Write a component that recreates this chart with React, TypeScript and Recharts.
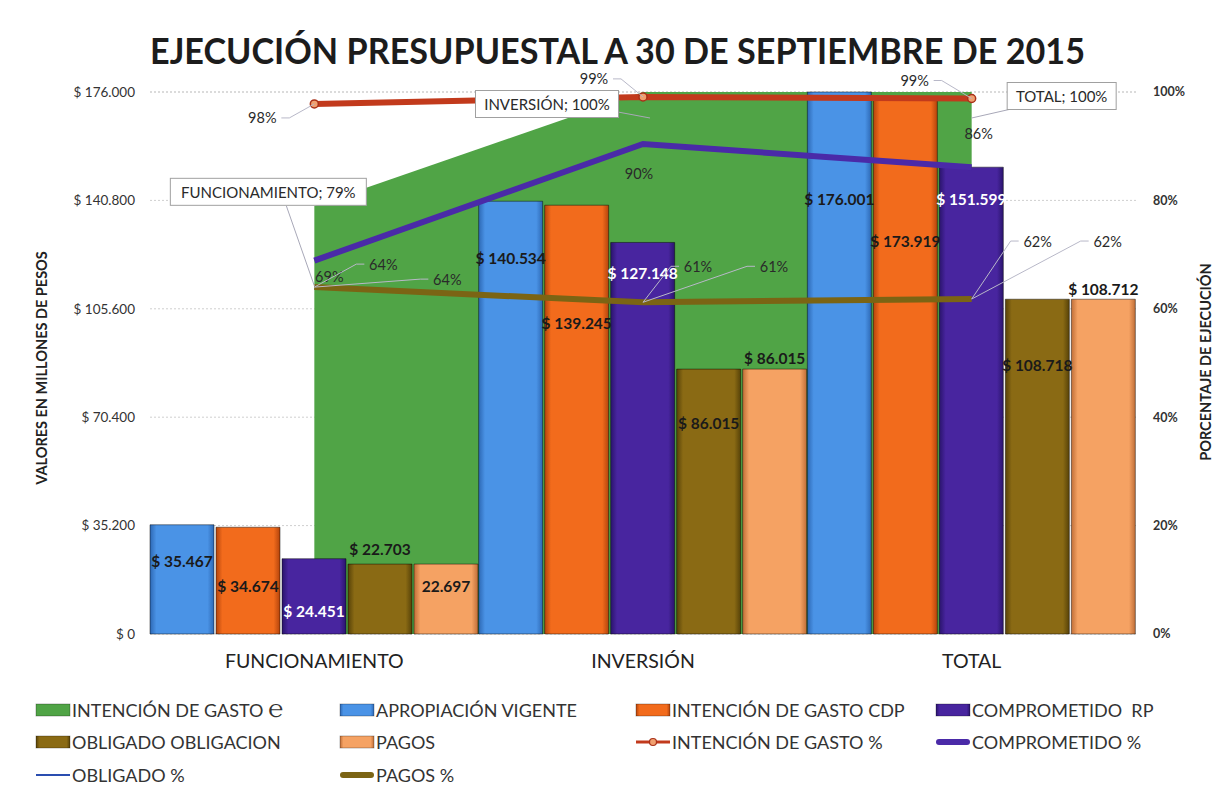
import React from 'react';
import { ComposedChart, Bar, Line, Area, XAxis, YAxis, CartesianGrid, LabelList } from 'recharts';

// ---------- data ----------
const categories = ['FUNCIONAMIENTO', 'INVERSIÓN', 'TOTAL'];
const apropiacionVigente = [35467, 140534, 176001];
const intencionCdp = [34674, 139245, 173919];
const comprometidoRp = [24451, 127148, 151599];
const obligadoObligacion = [22703, 86015, 108718];
const pagos = [22697, 86015, 108712];
const intencionGastoE = [0.79, 1.0, 1.0];
const intencionGastoPct = [0.978, 0.991, 0.988];
const comprometidoPct = [0.689, 0.904, 0.861];
const obligadoPct = [0.64, 0.612, 0.618];
const pagosPct = [0.64, 0.612, 0.618];
const leftTicks = [0, 35200, 70400, 105600, 140800, 176000];
const rightTicks = [0, 0.2, 0.4, 0.6, 0.8, 1.0];
const pagosLabelTexts = ['22.697', '$ 86.015', '$ 108.712'];

const data = categories.map((c, i) => ({
  name: c,
  area: intencionGastoE[i],
  apr: apropiacionVigente[i],
  cdp: intencionCdp[i],
  rp: comprometidoRp[i],
  obl: obligadoObligacion[i],
  pag: pagos[i],
  intPct: intencionGastoPct[i],
  compPct: comprometidoPct[i],
  oblPct: obligadoPct[i],
  pagPct: pagosPct[i],
}));

// ---------- style ----------
const FONT = 'Lato, "Open Sans", sans-serif';
const C = {
  green: '#50a446',
  blue: ['#4a93e6', '#2d68b4'],
  orange: ['#f26b1c', '#b4440c'],
  purple: ['#48259f', '#2a146c'],
  brown: ['#8a6a14', '#574208'],
  light: ['#f5a263', '#c06e37'],
  intLine: '#c23a1c',
  compLine: '#4a2aa8',
  oblLine: '#2a4db0',
  pagLine: '#7b6414',
};

const fmt = (n: number) => '$ ' + String(n).replace(/\B(?=(\d{3})+(?!\d))/g, '.');

// label offsets (relative to bar top), styling only
const barLabelDy: Record<string, number[]> = {
  apr: [36, 57, 107],
  cdp: [59, 118, 143],
  rp: [52, 31, 32],
  obl: [-15, 54, 66],
  pag: [22, -11, -10],
};

const makeBarLabel = (key: string, color: string, texts?: string[]) => (p: any) => {
  const { x, y, width, value, index } = p;
  const txt = texts ? texts[index] : fmt(value);
  return (
    <text
      x={x + width / 2}
      y={y + barLabelDy[key][index]}
      textAnchor="middle"
      dominantBaseline="central"
      fontFamily={FONT}
      fontSize={15.5}
      fontWeight={700}
      fill={color}
    >
      {txt}
    </text>
  );
};

type Off = { dx: number; dy: number; lead?: boolean };
const pctOffsets: Record<string, Off[]> = {
  intPct: [
    { dx: -52, dy: 14, lead: true },
    { dx: -49, dy: -18, lead: true },
    { dx: -57, dy: -18, lead: true },
  ],
  compPct: [
    { dx: 15, dy: 16 },
    { dx: -4, dy: 29 },
    { dx: 7, dy: -34 },
  ],
  pagPct: [
    { dx: 69, dy: -23, lead: true },
    { dx: 55, dy: -36, lead: true },
    { dx: 66, dy: -58, lead: true },
  ],
  oblPct: [
    { dx: 133, dy: -8, lead: true },
    { dx: 131, dy: -36, lead: true },
    { dx: 136, dy: -58, lead: true },
  ],
};

const makePctLabel = (key: string) => (p: any) => {
  const { x, y, value, index } = p;
  const o = pctOffsets[key][index];
  const lx = x + o.dx;
  const ly = y + o.dy;
  const side = o.dx < 0 ? 1 : -1;
  return (
    <g>
      {o.lead && (
        <polyline
          points={`${lx + side * 19},${ly} ${lx + side * 27},${ly} ${x},${y}`}
          fill="none"
          stroke="#b8b8c8"
          strokeWidth={1}
        />
      )}
      <text
        x={lx}
        y={ly}
        textAnchor="middle"
        dominantBaseline="central"
        fontFamily={FONT}
        fontSize={14.5}
        fill="#2a2a2a"
      >
        {`${Math.round(value * 100)}%`}
      </text>
    </g>
  );
};

const areaLabelCfg = [
  { dx: -46, dy: -14, w: 196, l: [-28, 0, 0, 80] },
  { dx: -96, dy: 12, w: 143, l: [-25, 20, 7, 26] },
  { dx: 90, dy: 4, w: 109, l: [44, 16, 0, 26] },
];

const areaLabel = (p: any) => {
  const { x, y, value, index } = p;
  const c = areaLabelCfg[index];
  const cx = x + c.dx;
  const cy = y + c.dy;
  const h = 27;
  return (
    <g>
      <line x1={x + c.l[0]} y1={y + c.l[1]} x2={x + c.l[2]} y2={y + c.l[3]} stroke="#a8a8b8" strokeWidth={1} />
      <rect x={cx - c.w / 2} y={cy - h / 2} width={c.w} height={h} fill="#ffffff" stroke="#a0a0a0" strokeWidth={1} />
      <text x={cx} y={cy} textAnchor="middle" dominantBaseline="central" fontFamily={FONT} fontSize={15} fill="#2a2a2a">
        {`${categories[index]}; ${Math.round(value * 100)}%`}
      </text>
    </g>
  );
};

const Grad = ({ id, c }: { id: string; c: string[] }) => (
  <linearGradient id={id} x1="0" y1="0" x2="1" y2="0">
    <stop offset="0" stopColor={c[1]} />
    <stop offset="0.1" stopColor={c[0]} />
    <stop offset="0.9" stopColor={c[0]} />
    <stop offset="1" stopColor={c[1]} />
  </linearGradient>
);

const legendRows = [
  [
    { t: 'INTENCIÓN DE GASTO ℮', kind: 'rect', c: [C.green, C.green] },
    { t: 'APROPIACIÓN VIGENTE', kind: 'rect', c: C.blue },
    { t: 'INTENCIÓN DE GASTO CDP', kind: 'rect', c: C.orange },
    { t: 'COMPROMETIDO\u00a0\u00a0RP', kind: 'rect', c: C.purple },
  ],
  [
    { t: 'OBLIGADO OBLIGACION', kind: 'rect', c: C.brown },
    { t: 'PAGOS', kind: 'rect', c: C.light },
    { t: 'INTENCIÓN DE GASTO %', kind: 'dotline', c: [C.intLine] },
    { t: 'COMPROMETIDO %', kind: 'thick', c: [C.compLine] },
  ],
  [
    { t: 'OBLIGADO %', kind: 'thin', c: [C.oblLine] },
    { t: 'PAGOS %', kind: 'thick', c: [C.pagLine] },
  ],
];
const legendColX = [36, 340, 636, 936];
const legendRowY = [710, 742, 775];

const Overlay = () => (
  <svg width={1214} height={799} style={{ position: 'absolute', left: 0, top: 0, pointerEvents: 'none' }}>
    <defs>
      <Grad id="lg-blue" c={C.blue} />
      <Grad id="lg-orange" c={C.orange} />
      <Grad id="lg-purple" c={C.purple} />
      <Grad id="lg-brown" c={C.brown} />
      <Grad id="lg-light" c={C.light} />
    </defs>
    <text x={150} y={64} fontFamily={FONT} fontWeight={700} fontSize={37} fill="#1c1c1c" textLength={935} lengthAdjust="spacingAndGlyphs">
      EJECUCIÓN PRESUPUESTAL A 30 DE SEPTIEMBRE DE 2015
    </text>
    <text x={41} y={368} transform="rotate(-90 41 368)" textAnchor="middle" dominantBaseline="central" fontFamily={FONT} fontWeight={700} fontSize={14.5} fill="#222">
      VALORES EN MILLONES DE PESOS
    </text>
    <text x={1205} y={362} transform="rotate(-90 1205 362)" textAnchor="middle" dominantBaseline="central" fontFamily={FONT} fontWeight={700} fontSize={14.5} fill="#222">
      PORCENTAJE DE EJECUCIÓN
    </text>
    {legendRows.map((row, r) =>
      row.map((it, k) => {
        const x = legendColX[k];
        const y = legendRowY[r];
        const gid = it.c === C.blue ? 'lg-blue' : it.c === C.orange ? 'lg-orange' : it.c === C.purple ? 'lg-purple' : it.c === C.brown ? 'lg-brown' : it.c === C.light ? 'lg-light' : '';
        return (
          <g key={`${r}-${k}`}>
            {it.kind === 'rect' && (
              <rect x={x} y={y - 6} width={34} height={12} fill={gid ? `url(#${gid})` : it.c[0]} stroke="rgba(0,0,0,0.35)" strokeWidth={0.8} />
            )}
            {it.kind === 'dotline' && (
              <g>
                <line x1={x} y1={y} x2={x + 34} y2={y} stroke={it.c[0]} strokeWidth={3} />
                <circle cx={x + 17} cy={y} r={3.5} fill="#f0a070" stroke="#a83018" strokeWidth={1.2} />
              </g>
            )}
            {it.kind === 'thick' && <line x1={x + 3} y1={y} x2={x + 31} y2={y} stroke={it.c[0]} strokeWidth={6} strokeLinecap="round" />}
            {it.kind === 'thin' && <line x1={x} y1={y} x2={x + 34} y2={y} stroke={it.c[0]} strokeWidth={2} />}
            <text x={x + 36} y={y} dominantBaseline="central" fontFamily={FONT} fontSize={18} fill="#333">
              {it.t}
            </text>
          </g>
        );
      })
    )}
  </svg>
);

export default function App() {
  return (
    <div style={{ position: 'absolute', left: 0, top: 0, width: 1214, height: 799, background: '#fff' }}>
      <ComposedChart
        width={1214}
        height={799}
        data={data}
        margin={{ top: 92, right: 0, bottom: 125, left: 0 }}
        barCategoryGap={0}
        barGap={2}
      >
        <defs>
          <Grad id="g-blue" c={C.blue} />
          <Grad id="g-orange" c={C.orange} />
          <Grad id="g-purple" c={C.purple} />
          <Grad id="g-brown" c={C.brown} />
          <Grad id="g-light" c={C.light} />
        </defs>
        <CartesianGrid yAxisId="left" vertical={false} stroke="#cfcfcf" strokeDasharray="2 2" />
        <XAxis
          dataKey="name"
          height={40}
          axisLine={false}
          tickLine={false}
          tickSize={0}
          tickMargin={20}
          tick={{ fontFamily: FONT, fontSize: 19.5, fill: '#222' }}
        />
        <YAxis
          yAxisId="left"
          orientation="left"
          width={150}
          domain={[0, 176000]}
          ticks={leftTicks}
          tickFormatter={(v: number) => fmt(v)}
          axisLine={false}
          tickLine={false}
          tickSize={0}
          tickMargin={15}
          tick={{ fontFamily: FONT, fontSize: 13.5, fill: '#333' }}
        />
        <YAxis
          yAxisId="right"
          orientation="right"
          width={78}
          domain={[0, 1]}
          ticks={rightTicks}
          tickFormatter={(v: number) => `${Math.round(v * 100)}%`}
          axisLine={false}
          tickLine={false}
          tickSize={0}
          tickMargin={17}
          tick={{ fontFamily: FONT, fontSize: 12.5, fill: '#333', fontWeight: 700 }}
        />
        <Area
          yAxisId="right"
          dataKey="area"
          type="linear"
          fill={C.green}
          fillOpacity={1}
          stroke="none"
          isAnimationActive={false}
        />
        <Bar yAxisId="left" dataKey="apr" fill="url(#g-blue)" stroke="rgba(0,0,0,0.45)" strokeWidth={1} isAnimationActive={false}>
          <LabelList dataKey="apr" content={makeBarLabel('apr', '#1a1a1a')} />
        </Bar>
        <Bar yAxisId="left" dataKey="cdp" fill="url(#g-orange)" stroke="rgba(0,0,0,0.45)" strokeWidth={1} isAnimationActive={false}>
          <LabelList dataKey="cdp" content={makeBarLabel('cdp', '#1a1a1a')} />
        </Bar>
        <Bar yAxisId="left" dataKey="rp" fill="url(#g-purple)" stroke="rgba(0,0,0,0.45)" strokeWidth={1} isAnimationActive={false}>
          <LabelList dataKey="rp" content={makeBarLabel('rp', '#ffffff')} />
        </Bar>
        <Bar yAxisId="left" dataKey="obl" fill="url(#g-brown)" stroke="rgba(0,0,0,0.45)" strokeWidth={1} isAnimationActive={false}>
          <LabelList dataKey="obl" content={makeBarLabel('obl', '#1a1a1a')} />
        </Bar>
        <Bar yAxisId="left" dataKey="pag" fill="url(#g-light)" stroke="rgba(0,0,0,0.45)" strokeWidth={1} isAnimationActive={false}>
          <LabelList dataKey="pag" content={makeBarLabel('pag', '#1a1a1a', pagosLabelTexts)} />
        </Bar>
        <Line
          yAxisId="right"
          dataKey="intPct"
          type="linear"
          stroke={C.intLine}
          strokeWidth={6}
          dot={{ r: 4, fill: '#f0a070', stroke: '#a83018', strokeWidth: 1.5 }}
          isAnimationActive={false}
        >
          <LabelList dataKey="intPct" content={makePctLabel('intPct')} />
        </Line>
        <Line yAxisId="right" dataKey="compPct" type="linear" stroke={C.compLine} strokeWidth={6} dot={false} isAnimationActive={false}>
          <LabelList dataKey="compPct" content={makePctLabel('compPct')} />
        </Line>
        <Line yAxisId="right" dataKey="oblPct" type="linear" stroke={C.oblLine} strokeWidth={2} dot={false} isAnimationActive={false}>
          <LabelList dataKey="oblPct" content={makePctLabel('oblPct')} />
        </Line>
        <Line yAxisId="right" dataKey="pagPct" type="linear" stroke={C.pagLine} strokeWidth={6} dot={false} isAnimationActive={false}>
          <LabelList dataKey="pagPct" content={makePctLabel('pagPct')} />
        </Line>
        <Area yAxisId="right" dataKey="area" type="linear" fill="none" stroke="none" isAnimationActive={false} legendType="none">
          <LabelList dataKey="area" content={areaLabel} />
        </Area>
      </ComposedChart>
      <Overlay />
    </div>
  );
}
